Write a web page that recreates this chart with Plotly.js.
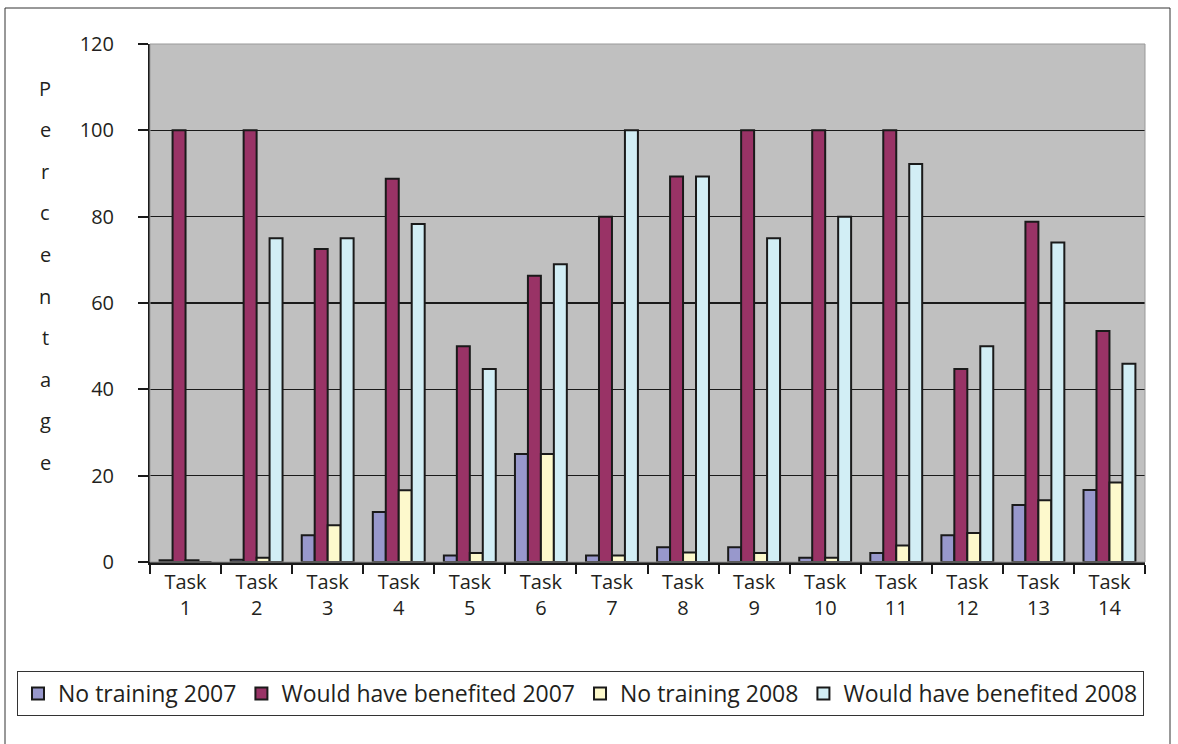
<!DOCTYPE html>
<html>
<head>
<meta charset="utf-8">
<script src="https://cdn.plot.ly/plotly-3.0.1.min.js"></script>
<style>
  html, body { margin: 0; padding: 0; background: #ffffff; }
  #chart { width: 1178px; height: 744px; }
</style>
</head>
<body>
<div id="chart"></div>
<script>
// ---- Data ----
const categories = ["Task<br>1","Task<br>2","Task<br>3","Task<br>4","Task<br>5","Task<br>6","Task<br>7",
                    "Task<br>8","Task<br>9","Task<br>10","Task<br>11","Task<br>12","Task<br>13","Task<br>14"];
const seriesNames = ["No training 2007", "Would have benefited 2007", "No training 2008", "Would have benefited 2008"];
const noTraining2007   = [0.4, 0.5, 6.2, 11.6, 1.5, 25, 1.5, 3.4, 3.4, 1.0, 2.1, 6.2, 13.2, 16.7];
const benefited2007    = [100, 100, 72.5, 88.8, 50, 66.3, 80, 89.3, 100, 100, 100, 44.7, 78.8, 53.5];
const noTraining2008   = [0.4, 1.0, 8.5, 16.6, 2.1, 25, 1.5, 2.2, 2.1, 1.0, 3.8, 6.7, 14.3, 18.4];
const benefited2008    = [0, 75, 75, 78.3, 44.7, 69, 100, 89.3, 75, 80, 92.2, 50, 74, 45.9];
const yTicks = [0, 20, 40, 60, 80, 100, 120];
const yTitle = "Percentage";

const colors = ["#9898cc", "#993366", "#fdf9cc", "#d2eef5"];
const values = [noTraining2007, benefited2007, noTraining2008, benefited2008];

const traces = values.map((v, i) => ({
  type: "bar",
  name: seriesNames[i],
  x: categories,
  y: v,
  marker: { color: colors[i], line: { color: "#1a1a1a", width: 2 } }
}));

// plot area geometry (px)
const W = 1178, H = 744;
const L = 150, R = 33, T = 44, B = 182;
const pw = W - L - R, ph = H - T - B;
const px = x => (x - L) / pw;
const py = y => (H - B - y) / ph;

// stacked vertical axis title letters
const letterYs0 = 88, letterStep = 41.6;
const annotations = yTitle.split("").map((ch, i) => ({
  xref: "paper", yref: "paper",
  x: px(45), y: py(letterYs0 + i * letterStep),
  xanchor: "center", yanchor: "middle",
  text: ch, showarrow: false,
  font: { family: "Open Sans, sans-serif", size: 20, color: "#231f20" }
}));

const layout = {
  width: W, height: H,
  margin: { l: L, r: R, t: T, b: B, pad: 0 },
  paper_bgcolor: "#ffffff",
  plot_bgcolor: "#c0c0c0",
  font: { family: "Open Sans, sans-serif", size: 20, color: "#231f20" },
  barmode: "group",
  bargap: 0.27,
  bargroupgap: 0,
  showlegend: true,
  legend: {
    orientation: "h",
    x: px(17), y: py(671), xanchor: "left", yanchor: "top",
    bordercolor: "#333333", borderwidth: 1,
    bgcolor: "#ffffff",
    font: { size: 23, color: "#231f20" },
    traceorder: "normal",
    itemsizing: "constant"
  },
  xaxis: {
    type: "category",
    showgrid: false,
    showline: true, linecolor: "#1a1a1a", linewidth: 3,
    ticks: "outside", tickson: "boundaries", ticklen: 9, tickwidth: 2, tickcolor: "#1a1a1a",
    tickfont: { size: 20, color: "#231f20" },
    tickangle: 0,
    fixedrange: true
  },
  yaxis: {
    range: [0, 120],
    tickvals: yTicks,
    ticktext: yTicks.map(String),
    showgrid: true, gridcolor: "#1a1a1a", gridwidth: 1.5,
    showline: true, linecolor: "#1a1a1a", linewidth: 2,
    ticks: "outside", ticklen: 10, tickwidth: 2, tickcolor: "#1a1a1a",
    ticklabelstandoff: 20,
    tickfont: { size: 20, color: "#231f20" },
    zeroline: false,
    fixedrange: true
  },
  annotations: annotations,
  shapes: [
    // outer frame of the figure
    { type: "rect", xref: "paper", yref: "paper", layer: "below",
      x0: px(5), x1: px(1170), y0: py(760), y1: py(8),
      line: { color: "#333333", width: 1 }, fillcolor: "rgba(0,0,0,0)" },
    // light edge of the plot area
    { type: "rect", xref: "paper", yref: "paper", layer: "above",
      x0: 0, x1: 1, y0: 0, y1: 1,
      line: { color: "#999999", width: 1 }, fillcolor: "rgba(0,0,0,0)" }
  ]
};

Plotly.newPlot("chart", traces, layout, { displayModeBar: false, staticPlot: true });
</script>
</body>
</html>
